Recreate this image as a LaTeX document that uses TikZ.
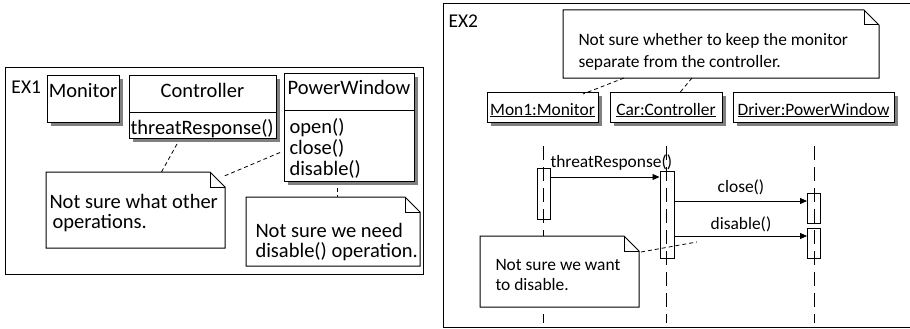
\documentclass[tikz,border=0pt]{standalone}
\usepackage{fontspec}
\setmainfont{Carlito}
\usetikzlibrary{arrows.meta,shadows}

% folded note outline round a named node
\newcommand\notefold[1]{%
  \draw[fill=white] (#1.north west) -- ([xshift=-15pt]#1.north east) -- ([yshift=-15pt]#1.north east) -- (#1.south east) -- (#1.south west) -- cycle;
  \draw ([xshift=-15pt]#1.north east) -- ([xshift=-15pt,yshift=-15pt]#1.north east) -- ([yshift=-15pt]#1.north east);}

\begin{document}
\begin{tikzpicture}[x=1pt,y=-1pt,line width=1pt,
  bigtext/.style={font=\fontsize{20.5}{20}\selectfont,inner sep=0pt,align=left},
  smalltext/.style={font=\fontsize{17.4}{21}\selectfont,inner sep=0pt,align=left},
  framelbl/.style={font=\fontsize{19.5}{20}\selectfont,inner sep=0pt,anchor=base west},
  classbox/.style={draw,fill=white,anchor=north west,inner sep=0pt,drop shadow={shadow xshift=3pt,shadow yshift=-3pt,fill=black!50,opacity=1}},
  notebox/.style={anchor=north west,inner sep=0pt},
  link/.style={dash pattern=on 4pt off 3pt,line width=.8pt},
  lifeline/.style={dash pattern=on 14pt off 7pt,line width=.8pt},
  actbox/.style={draw,anchor=north west,inner sep=0pt,line width=.8pt},
  msg/.style={-{Triangle[length=7pt,width=6pt]},line width=.8pt}]
\useasboundingbox (0,0) rectangle (910,329);
% EX1: classes
\node[draw,anchor=north west,minimum width=418pt,minimum height=207pt,inner sep=0pt] (ex1) at (5,67) {};
\node[framelbl] (ex1lbl) at (11,93) {EX1};
\node[classbox,minimum width=72pt,minimum height=47pt] (mon) at (47,75) {};
\node[bigtext,anchor=base] (montxt) at (83,97) {Monitor};
\node[classbox,minimum width=147pt,minimum height=63pt] (ctrl) at (129,75) {};
\draw ([yshift=-37pt]ctrl.north west) -- ([yshift=-37pt]ctrl.north east);
\node[bigtext,anchor=base] (ctrltxt) at (202.5,97) {Controller};
\node[bigtext,anchor=base west] (ctrlops) at (130,134) {threatResponse()};
\node[classbox,minimum width=130pt,minimum height=108pt] (pw) at (284,73) {};
\draw ([yshift=-37pt]pw.north west) -- ([yshift=-37pt]pw.north east);
\node[bigtext,anchor=base] (pwtxt) at (349,95) {PowerWindow};
\node[bigtext,anchor=base west,font=\fontsize{20.5}{21}\selectfont] (pwops) at (289,175) {open()\\close()\\disable()};
% EX1: notes
\node[notebox,minimum width=178pt,minimum height=75pt] (note1) at (46,172) {};
\notefold{note1}
\node[bigtext,anchor=base west] (note1txt) at (49,228) {Not sure what other\\\hspace{3pt}operations.};
\node[notebox,minimum width=173pt,minimum height=68pt] (note2) at (246,197) {};
\notefold{note2}
\node[bigtext,anchor=base west] (note2txt) at (255,257) {Not sure we need\\disable() operation.};
\draw[link] ([xshift=-26pt,yshift=-5pt]ctrl.south) -- ([xshift=26pt]note1.north);
\draw[link] ([xshift=-4pt,yshift=-25pt]pw.west) -- ([xshift=-3pt,yshift=-5pt]note1.north east);
\draw[link] ([xshift=-12pt,yshift=-6pt]pw.south) -- ([xshift=4.5pt]note2.north);
% EX2: lifelines
\node[draw,anchor=north west,minimum width=469pt,minimum height=324pt,inner sep=0pt] (ex2) at (443,3) {};
\node[framelbl] (ex2lbl) at (448,28) {EX2};
\node[classbox,minimum width=111pt,minimum height=30pt] (mon1) at (487,92) {};
\node[smalltext,anchor=base] (mon1txt) at (542.5,115) {\underline{Mon1:Monitor}};
\node[classbox,minimum width=112pt,minimum height=30pt] (car) at (610,92) {};
\node[smalltext,anchor=base] (cartxt) at (666,115) {\underline{Car:Controller}};
\node[classbox,minimum width=161pt,minimum height=30pt] (drv) at (733,92) {};
\node[smalltext,anchor=base] (drvtxt) at (813.5,115) {\underline{Driver:PowerWindow}};
\draw[lifeline] ([yshift=-23pt]mon1.south) -- ([yshift=-200pt]mon1.south);
\draw[lifeline] ([yshift=-23pt]car.south) -- ([yshift=-200pt]car.south);
\draw[lifeline] ([yshift=-23pt]drv.south) -- ([yshift=-200pt]drv.south);
\node[actbox,minimum width=13pt,minimum height=51pt] (actmon) at (536.5,168) {};
\node[actbox,minimum width=14pt,minimum height=87pt] (actcar) at (659.5,171) {};
\node[actbox,minimum width=13pt,minimum height=30pt] (actdrva) at (807,193) {};
\node[actbox,minimum width=13pt,minimum height=30pt] (actdrvb) at (807,228) {};
% EX2: messages
\draw[msg] ([yshift=-9pt]actmon.north east) -- ([yshift=-6pt]actcar.north west);
\node[smalltext,anchor=base west] (msg1) at (550,167) {threatResponse()};
\draw[msg] ([yshift=-30pt]actcar.north east) -- ([yshift=-8pt]actdrva.north west);
\node[smalltext,anchor=base] (msg2) at (741,192) {close()};
\draw[msg] ([yshift=-65pt]actcar.north east) -- ([yshift=-8pt]actdrvb.north west);
\node[smalltext,anchor=base] (msg3) at (741,229) {disable()};
% EX2: notes
\node[notebox,minimum width=315pt,minimum height=67pt] (note3) at (563,10) {};
\notefold{note3}
\node[smalltext,anchor=base west,font=\fontsize{17.4}{22}\selectfont] (note3txt) at (578,67) {Not sure whether to keep the monitor\\separate from the controller.};
\node[notebox,minimum width=158pt,minimum height=70pt] (note4) at (480,236) {};
\notefold{note4}
\node[smalltext,anchor=base west,font=\fontsize{17.4}{20}\selectfont] (note4txt) at (495,290) {Not sure we want\\to disable.};
\draw[link] ([xshift=-97pt]note3.south) -- ([xshift=40pt,yshift=-2pt]mon1.north);
\draw[link] ([xshift=-29pt]note3.south) -- ([xshift=13pt,yshift=-1pt]car.north);
\draw[link] ([xshift=2pt,yshift=-16pt]note4.north east) -- ([xshift=30pt,yshift=-71pt]actcar.north);
\end{tikzpicture}
\end{document}
